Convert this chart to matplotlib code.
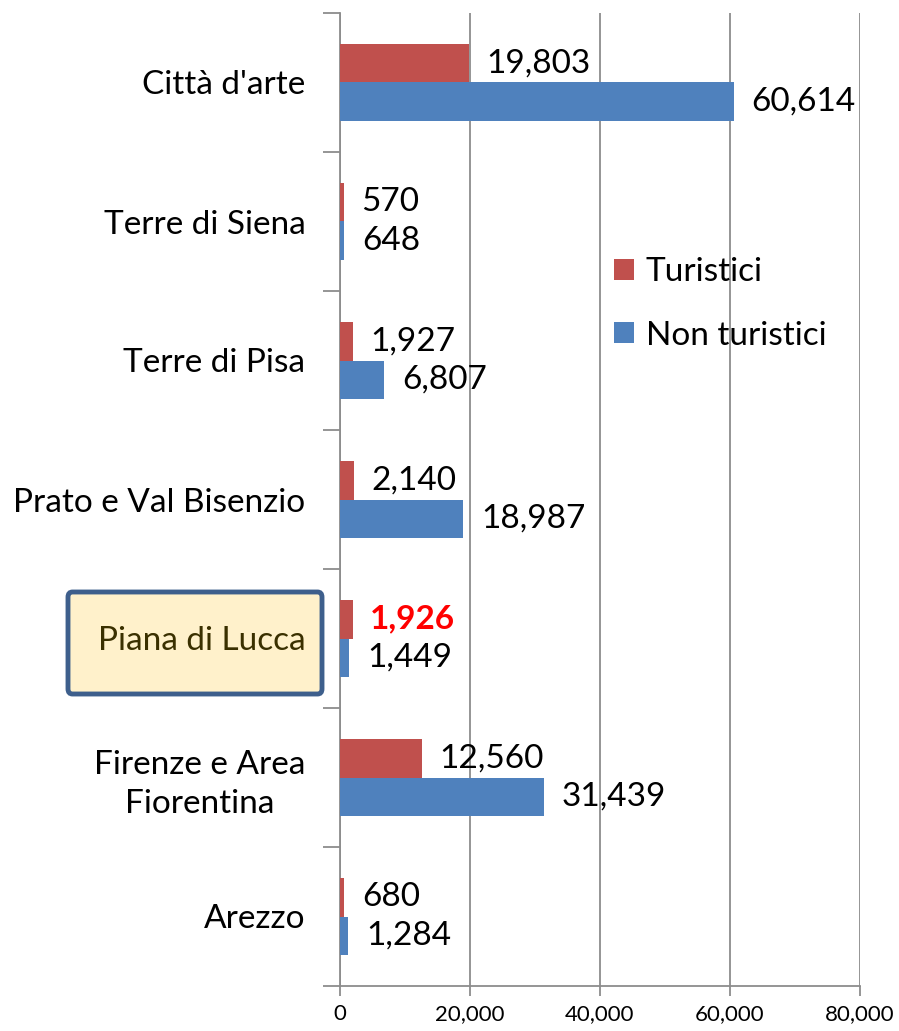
import matplotlib.pyplot as plt
import numpy as np
from matplotlib.patches import FancyBboxPatch

# bottom-to-top order, as drawn by barh
categories = ["Arezzo", "Firenze e Area\nFiorentina", "Piana di Lucca",
              "Prato e Val Bisenzio", "Terre di Pisa", "Terre di Siena", "Città d'arte"]
turistici = [680, 12560, 1926, 2140, 1927, 570, 19803]
non_turistici = [1284, 31439, 1449, 18987, 6807, 648, 60614]
x_ticks = [0, 20000, 40000, 60000, 80000]
highlight = "Piana di Lucca"

RED = "#C0504D"
BLUE = "#4F81BD"
GRID = "#8C8C8C"
FS = 24

plt.rcParams["font.family"] = ["Lato", "DejaVu Sans"]

fig = plt.figure(figsize=(8.99, 10.31), dpi=100)
ax = fig.add_axes([340/899, 45/1031, 520/899, 973/1031])

y = np.arange(len(categories))
h = 0.28
ax.barh(y + h/2, turistici, height=h, color=RED, label="Turistici", zorder=3)
ax.barh(y - h/2, non_turistici, height=h, color=BLUE, label="Non turistici", zorder=3)

off = 2700
for i, (t, n) in enumerate(zip(turistici, non_turistici)):
	if categories[i] == highlight:
		ax.text(t + off, y[i] + h/2, f"{t:,}", va="center", ha="left",
			fontsize=FS, color="red", fontweight="bold", zorder=4)
	else:
		ax.text(t + off, y[i] + h/2, f"{t:,}", va="center", ha="left",
			fontsize=FS, color="black", zorder=4)
	ax.text(n + off, y[i] - h/2, f"{n:,}", va="center", ha="left",
		fontsize=FS, color="black", zorder=4)

ax.set_xlim(0, 80000)
ax.set_ylim(-0.5, len(categories) - 0.5)
ax.set_xticks(x_ticks)
ax.set_xticklabels([f"{v:,}" for v in x_ticks], fontsize=16)
ax.xaxis.grid(True, color=GRID, lw=1.3, zorder=0)

ax.set_yticks(y)
ax.set_yticklabels(categories, fontsize=FS, multialignment="center", linespacing=1.35)
ax.set_yticks(np.arange(len(categories) + 1) - 0.5, minor=True)
ax.tick_params(axis="y", which="major", length=0, pad=25)
ax.tick_params(axis="y", which="minor", length=12, width=1.3, color=GRID)
ax.tick_params(axis="x", length=7, width=1.3, color=GRID, pad=6)

for lbl in ax.get_yticklabels():
	if lbl.get_text() == highlight:
		lbl.set_color("#3A3000")

# highlight box behind the "Piana di Lucca" label
box = FancyBboxPatch((68/899, (1031-694)/1031), 254/899, 102/1031,
	boxstyle="round,pad=0,rounding_size=0.005", transform=fig.transFigure,
	fc="#FFF1CB", ec="#3E5F8C", lw=3.5, zorder=-1)
fig.patches.append(box)

for s in ["top", "right"]:
	ax.spines[s].set_visible(False)
ax.spines["left"].set_color(GRID)
ax.spines["left"].set_linewidth(1.3)
ax.spines["bottom"].set_color(GRID)
ax.spines["bottom"].set_linewidth(1.3)

ax.legend(loc="upper left", bbox_to_anchor=(0.527, 0.749), frameon=False,
	fontsize=FS, borderpad=0, borderaxespad=0, handlelength=0.6, handleheight=0.6,
	handletextpad=0.35, labelspacing=1.0)

fig.savefig("out.png", dpi=100)
